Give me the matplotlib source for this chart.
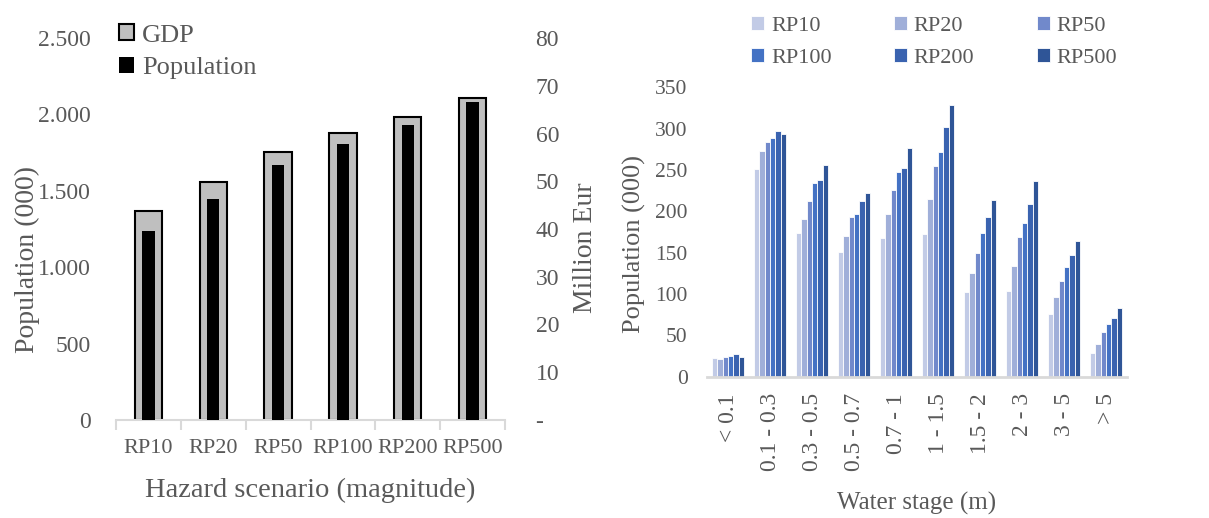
import numpy as np
import matplotlib
matplotlib.use("Agg")
import matplotlib.pyplot as plt
from matplotlib.patches import Patch
from matplotlib.ticker import FuncFormatter

plt.rcParams["font.family"] = ["Liberation Serif", "DejaVu Serif"]

TXT = "#595959"
AXIS = "#d9d9d9"

# left panel: exposure per hazard scenario
scenarios = ["RP10", "RP20", "RP50", "RP100", "RP200", "RP500"]
population = [1237, 1446, 1669, 1806, 1931, 2081]      # thousands
gdp = [43.8, 49.9, 56.1, 60.1, 63.5, 67.4]              # million EUR

# right panel: population by water stage class
stages = ["< 0.1", "0.1 - 0.3", "0.3 - 0.5", "0.5 - 0.7", "0.7 - 1",
          "1 - 1.5", "1.5 - 2", "2 - 3", "3 - 5", "> 5"]
rp10 = [22.8, 251.3, 174.2, 150.8, 167.7, 172.6, 102.3, 103.5, 75.7, 28.8]
rp20 = [21.2, 272.7, 190.7, 169.8, 197.2, 214.6, 125.0, 133.4, 95.9, 39.7]
rp50 = [23.6, 283.6, 212.5, 193.2, 225.5, 255.0, 149.2, 168.6, 115.7, 53.9]
rp100 = [24.4, 288.8, 234.0, 196.8, 248.0, 271.9, 174.2, 186.3, 132.6, 63.2]
rp200 = [27.2, 296.9, 238.0, 212.2, 252.0, 302.2, 193.2, 208.9, 147.1, 71.2]
rp500 = [24.0, 293.7, 256.0, 221.9, 277.0, 328.8, 213.8, 236.8, 163.7, 83.0]
rp_series = [rp10, rp20, rp50, rp100, rp200, rp500]
rp_colors = ["#c2cbe6", "#a0afd9", "#7189cb", "#4472c4", "#3a63b0", "#2f5597"]

W, H = 1209, 518
fig = plt.figure(figsize=(W / 100, H / 100), dpi=100)

# ---- left panel ----
ax = fig.add_axes([116 / W, 1 - 420 / H, 389 / W, 382 / H])
ax2 = ax.twinx()
x = np.arange(len(scenarios))
ax2.bar(x, gdp, width=0.42, color="#bfbfbf", edgecolor="black", linewidth=1.5)
ax.bar(x, population, width=0.19, color="black", zorder=3)
ax.set_zorder(ax2.get_zorder() + 1)
ax.patch.set_visible(False)

ax.set_xlim(-0.5, len(scenarios) - 0.5)
ax.set_ylim(0, 2500)
ax.set_yticks(np.arange(0, 2501, 500))
ax.yaxis.set_major_formatter(FuncFormatter(lambda v, _: f"{int(v):,}".replace(",", ".")))
ax2.set_ylim(0, 80)
ax2.set_yticks(np.arange(0, 81, 10))
ax2.yaxis.set_major_formatter(FuncFormatter(lambda v, _: "-" if v == 0 else f"{v:.0f}"))

ax.set_xticks(x)
ax.set_xticklabels(scenarios)
ax.set_xticks(np.arange(-0.5, len(scenarios)), minor=True)
ax.tick_params(axis="x", which="major", length=0, pad=14, labelsize=16, labelcolor=TXT)
ax.tick_params(axis="x", which="minor", length=7, width=1.5, color=AXIS)
ax.tick_params(axis="y", length=0, pad=18, labelsize=17, labelcolor=TXT)
ax2.tick_params(axis="y", length=0, pad=22, labelsize=17, labelcolor=TXT)
ax2.tick_params(axis="x", length=0)

for a in (ax, ax2):
    for s in a.spines.values():
        s.set_visible(False)
ax.spines["bottom"].set_visible(True)
ax.spines["bottom"].set_color(AXIS)
ax.spines["bottom"].set_linewidth(1.5)

ax.set_xlabel("Hazard scenario (magnitude)", fontsize=20.5, color=TXT, labelpad=14)
ax.set_ylabel("Population (000)", fontsize=20, color=TXT)
ax.yaxis.set_label_coords(-0.195, 0.42)
ax2.set_ylabel("Million Eur", fontsize=20, color=TXT)
ax2.yaxis.set_label_coords(1.175, 0.45)

handles = [Patch(facecolor="#bfbfbf", edgecolor="black", linewidth=1.5, label="GDP"),
           Patch(facecolor="black", label="Population")]
fig.legend(handles=handles, loc="upper left", bbox_to_anchor=(119 / W, 1 - 24 / H),
           frameon=False, fontsize=19, labelcolor=TXT, handlelength=0.58, handleheight=0.58,
           handletextpad=0.3, labelspacing=0.38, borderpad=0, borderaxespad=0)

# ---- right panel ----
bx = fig.add_axes([707 / W, 1 - 376.5 / H, 420 / W, 289 / H])
xs = np.arange(len(stages))
bw = 0.127
for i, (vals, col, lab) in enumerate(zip(rp_series, rp_colors, scenarios)):
    bx.bar(xs + (i - 2.5) * bw, vals, width=bw, color=col, edgecolor="white",
           linewidth=0.6, label=lab)

bx.set_xlim(-0.5, len(stages) - 0.5)
bx.set_ylim(0, 350)
bx.set_yticks(np.arange(0, 351, 50))
bx.set_xticks(xs)
bx.set_xticklabels(stages, rotation=90)
bx.tick_params(axis="x", length=0, pad=12, labelsize=17, labelcolor=TXT)
bx.tick_params(axis="y", length=0, pad=14, labelsize=15.5, labelcolor=TXT)
for s in bx.spines.values():
    s.set_visible(False)
bx.spines["bottom"].set_visible(True)
bx.spines["bottom"].set_color(AXIS)
bx.spines["bottom"].set_linewidth(2)

bx.set_xlabel("Water stage (m)", fontsize=18, color=TXT, labelpad=15)
bx.set_ylabel("Population (000)", fontsize=19, color=TXT)
bx.yaxis.set_label_coords(-0.145, 0.46)

# legend filled row by row: RP10 RP20 RP50 / RP100 RP200 RP500
h, l = bx.get_legend_handles_labels()
order = [0, 3, 1, 4, 2, 5]
fig.legend([h[k] for k in order], [l[k] for k in order], loc="upper left", ncol=3,
           bbox_to_anchor=(751 / W, 1 - 16 / H), frameon=False, fontsize=16,
           labelcolor=TXT, handlelength=0.6, handleheight=0.6, handletextpad=0.3,
           labelspacing=0.55, columnspacing=2.8, borderpad=0, borderaxespad=0)

fig.savefig("out.png", dpi=100)
